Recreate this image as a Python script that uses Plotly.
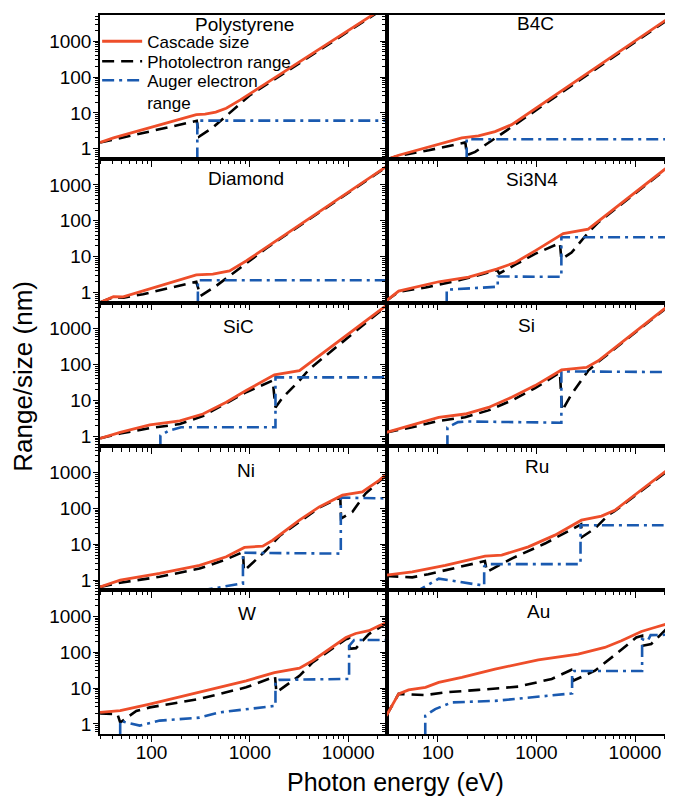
import plotly.graph_objects as go
from plotly.subplots import make_subplots

# ---------------- data (photon energy eV, range/size nm) ----------------
materials = ["Polystyrene", "B4C", "Diamond", "Si3N4", "SiC", "Si", "Ni", "Ru", "W", "Au"]

polystyrene_cascade = [(30, 1.5), (41, 2.0), (285, 8.9), (350, 9.3), (450, 10.5), (575, 13.5), (800, 23), (1000, 34), (25000, 10000)]
polystyrene_photo = [(30, 1.5), (45, 1.9), (288, 6.0), (305, 2.2), (420, 3.9), (785, 17), (1000, 31), (25000, 9500)]
polystyrene_auger = [(292, 0.1), (292, 6.1), (25000, 6.1)]

b4c_cascade = [(30, 0.5), (40, 0.66), (175, 2.0), (258, 2.3), (380, 3.0), (561, 4.7), (25000, 5600)]
b4c_photo = [(30, 0.5), (40, 0.64), (81, 0.91), (162, 1.41), (190, 1.5), (197, 0.66), (239, 0.82), (380, 1.95), (605, 4.7), (1000, 12.6), (25000, 5300)]
b4c_auger = [(196, 0.1), (196, 1.85), (25000, 1.85)]

diamond_cascade = [(30, 0.53), (41, 0.77), (51.5, 0.76), (285, 3.1), (420, 3.25), (621, 4.0), (916, 7.6), (25000, 3400)]
diamond_photo = [(30, 0.53), (41, 0.75), (52, 0.72), (82, 0.9), (264, 1.9), (285, 2.0), (315, 0.8), (455, 1.54), (725, 4.0), (1460, 17), (25000, 3300)]
diamond_auger = [(296, 0.1), (296, 2.2), (25000, 2.2)]

si3n4_cascade = [(30, 0.59), (40, 1.1), (102, 2.0), (205, 2.7), (395, 4.5), (610, 6.9), (968, 14.5), (1870, 44), (3350, 59), (25000, 4400)]
si3n4_photo = [(30, 0.59), (40, 1.05), (75, 1.38), (175, 2.3), (400, 4.2), (420, 3.4), (610, 6.0), (968, 12), (1730, 24), (1790, 8.5), (2270, 13), (3350, 47), (4200, 88), (25000, 4200)]
si3n4_auger = [(123, 0.1), (123, 1.2), (395, 1.45), (405, 1.45), (405, 2.8), (1790, 2.75), (1790, 35), (25000, 35)]

sic_cascade = [(30, 0.88), (48, 1.29), (96, 2.1), (194, 2.7), (333, 4.2), (575, 8.9), (916, 19), (1775, 52), (3190, 68), (25000, 4700)]
sic_photo = [(30, 0.88), (48, 1.2), (96, 1.7), (194, 2.2), (333, 3.7), (575, 8.3), (916, 17), (1706, 36), (1820, 6.4), (2150, 12), (3190, 36), (4020, 75), (25000, 4500)]
sic_auger = [(123, 0.1), (123, 1.05), (150, 1.45), (200, 1.8), (1820, 1.8), (1820, 44), (25000, 44)]

si_cascade = [(30, 1.29), (55, 2.1), (102, 3.4), (189, 4.2), (326, 6.4), (561, 12.3), (968, 26), (1800, 71), (3220, 84), (4240, 128), (25000, 5900)]
si_photo = [(30, 1.29), (55, 1.8), (102, 2.7), (189, 3.4), (326, 5.3), (561, 10), (968, 22), (1730, 60), (1820, 5.2), (2270, 15), (3350, 68), (4240, 120), (25000, 5700)]
si_auger = [(125, 0.1), (125, 1.78), (160, 2.5), (200, 2.6), (1790, 2.4), (1790, 65), (21000, 62)]

ni_cascade = [(30, 0.65), (48, 1.0), (121, 1.54), (308, 2.6), (575, 4.5), (880, 8.2), (1350, 8.9), (1706, 13), (3190, 47), (5070, 110), (8730, 234), (13900, 288), (20600, 610), (25000, 950)]
ni_photo = [(30, 0.65), (48, 0.85), (121, 1.24), (308, 2.1), (575, 3.8), (851, 6.1), (870, 1.8), (1250, 4.5), (1460, 6.8), (2000, 17), (5070, 105), (8300, 205), (8450, 52), (11000, 80), (15000, 260), (25000, 900)]
ni_auger = [(100, 0.3), (308, 0.52), (817, 0.8), (850, 0.8), (850, 5.8), (8400, 5.5), (8400, 200), (25000, 190)]

ru_cascade = [(30, 1.38), (55, 1.7), (119, 2.6), (301, 4.7), (444, 5.0), (828, 8.5), (1540, 18), (2860, 47), (4570, 61), (6240, 89), (25000, 1650)]
ru_photo = [(30, 1.3), (55, 1.2), (80, 1.47), (221, 2.9), (300, 3.4), (315, 1.7), (561, 4.0), (1220, 10.5), (2650, 34), (2840, 36), (2900, 16), (3920, 27.6), (5350, 65), (6240, 85), (25000, 1550)]
ru_auger = [(58, 0.45), (102, 1.1), (278, 0.72), (295, 0.72), (295, 2.4), (320, 2.8), (2800, 2.8), (2800, 34), (19500, 34)]

w_cascade = [(30, 2.1), (48, 2.35), (96, 3.6), (308, 7.6), (916, 16), (1775, 27), (3190, 36), (4340, 58), (9470, 257), (11900, 333), (16200, 400), (20600, 550), (25000, 680)]
w_photo = [(30, 1.95), (45, 1.9), (48, 1.1), (70, 2.3), (96, 2.9), (308, 5.0), (916, 10.5), (1706, 20), (1800, 21), (1860, 7.6), (2070, 9.4), (3190, 22), (4340, 52), (9470, 230), (10200, 245), (10300, 125), (12000, 130), (16200, 320), (25000, 660)]
w_auger = [(48, 0.1), (48, 1.24), (55, 1.1), (76, 0.9), (121, 1.24), (308, 1.5), (489, 2.1), (916, 2.6), (1820, 3.2), (1820, 16), (2000, 17), (10200, 18), (10200, 150), (11500, 220), (25000, 220)]

au_cascade = [(30, 1.7), (40, 6.9), (50.5, 8.9), (75, 10.5), (102, 14.4), (175, 20), (380, 34), (1045, 61), (2650, 89), (4940, 136), (7280, 209), (11600, 380), (15800, 490), (25000, 700)]
au_photo = [(30, 1.7), (40, 6.9), (75, 6.4), (119, 7.6), (258, 8.9), (656, 11), (1430, 18), (2250, 32), (2350, 16), (3920, 30.5), (6760, 100), (10300, 258), (11800, 290), (11950, 152), (14600, 170), (21600, 490), (25000, 600)]
au_auger = [(74.5, 0.1), (74.5, 1.7), (94, 2.6), (139, 4.0), (380, 4.4), (2250, 7.1), (2300, 7.1), (2300, 27), (2400, 30), (11800, 30), (11800, 230), (13500, 210), (14400, 300), (25000, 310)]

series = {
    "Polystyrene": (polystyrene_cascade, polystyrene_photo, polystyrene_auger),
    "B4C": (b4c_cascade, b4c_photo, b4c_auger),
    "Diamond": (diamond_cascade, diamond_photo, diamond_auger),
    "Si3N4": (si3n4_cascade, si3n4_photo, si3n4_auger),
    "SiC": (sic_cascade, sic_photo, sic_auger),
    "Si": (si_cascade, si_photo, si_auger),
    "Ni": (ni_cascade, ni_photo, ni_auger),
    "Ru": (ru_cascade, ru_photo, ru_auger),
    "W": (w_cascade, w_photo, w_auger),
    "Au": (au_cascade, au_photo, au_auger),
}

y_tick_vals = [1, 10, 100, 1000]
y_tick_text = ["1", "10", "100", "1000"]
x_tick_vals = [100, 1000, 10000]
x_tick_text = ["100", "1000", "10000"]
legend_names = ["Cascade size", "Photolectron range", "Auger electron<br>range"]

# title centre positions in window pixels (x, y)
title_pos = {
    "Polystyrene": (245.5, 24.5), "B4C": (537.5, 23.3),
    "Diamond": (246.7, 178.4), "Si3N4": (534, 179.7),
    "SiC": (239, 326.5), "Si": (528, 325.8),
    "Ni": (246.7, 470.8), "Ru": (539, 466.7),
    "W": (247.5, 613.8), "Au": (540, 611.2),
}

# ---------------- styling ----------------
RED = "#EE4E2A"
BLUE = "#1A5AB0"
BLACK = "#000000"
FONT = "Liberation Sans, Arial, sans-serif"
OFF = 8  # page body margin
W, H = 673 - OFF, 796 - OFF
ML, MR, MT, MB = 100 - OFF, 0, 15 - OFF, 62
PW = W - ML - MR
PH = H - MT - MB
split = 288 / PW


def fx(px):
    return (px - OFF - ML) / PW


def fy(py):
    return (MT + PH - (py - OFF)) / PH


fig = make_subplots(rows=5, cols=2, horizontal_spacing=0, vertical_spacing=0)

minor_y = [0.6, 0.7, 0.8, 0.9] + [k * 10 ** d for d in range(0, 3) for k in range(2, 10)] + [2000, 3000, 4000, 5000]
minor_x = [k * 10 ** d for d in range(1, 5) for k in range(2, 10)]
minor_x = [v for v in minor_x if v not in (100, 1000, 10000)]

for i, name in enumerate(materials):
    r = i // 2 + 1
    c = i % 2 + 1
    cas, pho, aug = series[name]
    first = (i == 0)
    fig.add_trace(go.Scatter(x=[p[0] for p in pho], y=[p[1] for p in pho], mode="lines",
                             line=dict(color=BLACK, width=2.6, dash="12px,7px"),
                             name=legend_names[1], showlegend=first, legend="legend2"), row=r, col=c)
    fig.add_trace(go.Scatter(x=[p[0] for p in aug], y=[p[1] for p in aug], mode="lines",
                             line=dict(color=BLUE, width=2.6, dash="12px,5px,3px,5px"),
                             name=legend_names[2], showlegend=first, legend="legend3"), row=r, col=c)
    fig.add_trace(go.Scatter(x=[p[0] for p in cas], y=[p[1] for p in cas], mode="lines",
                             line=dict(color=RED, width=2.8),
                             name=legend_names[0], showlegend=first, legend="legend"), row=r, col=c)

    xr = [1.476, 4.394] if c == 1 else [1.484, 4.365]
    fig.update_xaxes(type="log", range=xr, domain=[0, split] if c == 1 else [split, 1],
                     tickmode="array", tickvals=x_tick_vals, ticktext=x_tick_text,
                     showticklabels=(r == 5), ticks="outside", ticklen=6, tickwidth=1.2, tickcolor="black",
                     ticklabelstandoff=-6,
                     minor=dict(tickvals=minor_x, ticks="outside", ticklen=3.5, tickwidth=1, tickcolor="black", showgrid=False),
                     showline=True, mirror=True, linecolor="black", linewidth=1.5,
                     showgrid=False, zeroline=False,
                     tickfont=dict(family=FONT, size=19, color="black"),
                     row=r, col=c)
    fig.update_yaxes(type="log", range=[-0.28, 3.73],
                     tickmode="array", tickvals=y_tick_vals, ticktext=y_tick_text,
                     showticklabels=(c == 1), ticks="outside", ticklen=5, tickwidth=1.2, tickcolor="black",
                     ticklabelstandoff=-2,
                     minor=dict(tickvals=minor_y, ticks="outside", ticklen=3, tickwidth=1, tickcolor="black", showgrid=False),
                     showline=True, mirror=True, linecolor="black", linewidth=1.5,
                     showgrid=False, zeroline=False,
                     tickfont=dict(family=FONT, size=19, color="black"),
                     row=r, col=c)

    px, py = title_pos[name]
    fig.add_annotation(text=name, xref="paper", yref="paper",
                       x=fx(px), y=fy(py),
                       xanchor="center", yanchor="middle", showarrow=False,
                       font=dict(family=FONT, size=19, color="black"))

fig.add_annotation(text="Range/size (nm)", xref="paper", yref="paper",
                   x=fx(22), y=fy(376.5), textangle=-90,
                   xanchor="center", yanchor="middle", showarrow=False,
                   font=dict(family=FONT, size=26, color="black"))
fig.add_annotation(text="Photon energy (eV)", xref="paper", yref="paper",
                   x=fx(396.5), y=fy(782), 
                   xanchor="center", yanchor="middle", showarrow=False,
                   font=dict(family=FONT, size=25, color="black"))

leg_common = dict(bgcolor="rgba(0,0,0,0)", borderwidth=0, xanchor="left", yanchor="middle",
                  font=dict(family=FONT, size=17, color="black"), itemwidth=40, valign="top")
fig.update_layout(
    legend=dict(x=-0.005, y=fy(41.7), **leg_common),
    legend2=dict(x=-0.005, y=fy(61.7), **leg_common),
    legend3=dict(x=-0.005, y=fy(91.7), **leg_common),
)

fig.update_layout(width=W, height=H, margin=dict(l=ML, r=MR, t=MT, b=MB),
                  paper_bgcolor="white", plot_bgcolor="white",
                  font=dict(family=FONT, color="black"))

fig.write_html("out.html")
